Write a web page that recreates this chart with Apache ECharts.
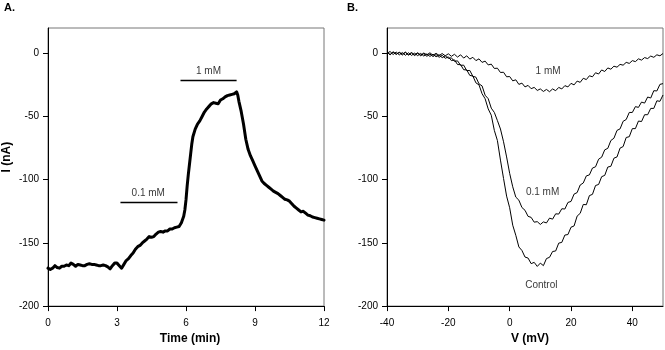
<!DOCTYPE html>
<html>
<head>
<meta charset="utf-8">
<script src="https://cdn.jsdelivr.net/npm/echarts@6/dist/echarts.min.js"></script>
<style>
  html, body { margin: 0; padding: 0; background: #fff; }
  #chart { width: 665px; height: 350px; }
</style>
</head>
<body>
<div id="chart"></div>
<script>
// Panel A: current over time (min, nA)
const timeMin = [0.00,0.10,0.20,0.30,0.40,0.50,0.60,0.70,0.80,0.90,1.00,1.10,1.20,1.30,1.40,1.50,1.60,1.70,1.80,1.90,
  2.00,2.10,2.20,2.30,2.40,2.50,2.60,2.70,2.80,2.90,3.00,3.10,3.20,3.30,3.40,3.50,3.60,3.70,3.80,3.90,
  4.00,4.10,4.20,4.30,4.40,4.50,4.60,4.70,4.80,4.90,5.00,5.10,5.20,5.30,5.40,5.50,5.60,5.70,5.80,5.90,
  5.95,6.00,6.05,6.10,6.15,6.20,6.25,6.30,6.40,6.50,6.60,6.70,6.80,6.90,7.00,7.10,7.20,7.30,7.40,7.50,
  7.60,7.70,7.80,7.90,8.00,8.10,8.15,8.20,8.25,8.30,8.40,8.50,8.60,8.70,8.80,8.90,9.00,9.10,9.20,9.30,
  9.40,9.50,9.60,9.70,9.80,9.90,10.00,10.10,10.20,10.30,10.40,10.50,10.60,10.70,10.80,10.90,11.00,11.10,11.20,11.30,
  11.40,11.50,11.60,11.70,11.80,11.90,12.00];
const currentA = [-170,-171,-170,-168,-169.5,-170,-168.5,-168.5,-167.5,-168,-166,-167,-168.5,-167,-167.5,-168,-168,-167,-166.5,-167,
  -167,-167.5,-168,-168,-167.5,-168,-169,-170.5,-168,-166,-166,-168,-170,-167,-164,-162.5,-160,-158,-155,-153,
  -152,-150,-148.5,-147,-145,-145.5,-145,-143,-141.5,-141,-141.5,-140.5,-140.5,-139,-139,-138,-137.5,-137,-134,-129,
  -124,-116,-105,-96,-88,-80,-72,-66,-60,-56,-53.5,-50,-46.5,-44,-42,-40,-39,-39.5,-40,-37,
  -36,-34.5,-33.5,-33,-32.5,-32,-31.5,-30.5,-33,-38,-46,-56,-68,-76,-81,-85,-89,-93,-97,-101,
  -103,-104.5,-106,-107.5,-109,-110,-111,-112.5,-114,-115.5,-116,-117,-119,-121,-122.5,-124,-125.5,-125,-126.5,-128,
  -128.5,-129.5,-130,-130.5,-131,-131.5,-132];

// Application bars in panel A: [start, end] in min, level in nA
const barLowConc = [3.15, 5.63];
const barLowLevel = -118;
const barHighConc = [5.76, 8.2];
const barHighLevel = -21.5;
const barLabels = ['0.1 mM', '1 mM'];
const barLabelPos = [[4.38, -111], [7.0, -15]];

// Panel B: current-voltage traces (mV, nA)
const voltage = [-40,-39,-38,-37,-36,-35,-34,-33,-32,-31,-30,-29,-28,-27,-26,-25,-24,-23,-22,-21,
  -20,-19,-18,-17,-16,-15,-14,-13,-12,-11,-10,-9,-8,-7,-6,-5,-4,-3,-2,-1,
  0,1,2,3,4,5,6,7,8,9,10,11,12,13,14,15,16,17,18,19,
  20,21,22,23,24,25,26,27,28,29,30,31,32,33,34,35,36,37,38,39,
  40,41,42,43,44,45,46,47,48,49,50];
const ivControl = [1.0,-1.2,0.9,-0.8,0.6,-1.4,0.8,-1.5,0.2,-1.8,0.0,-2.0,-0.3,-2.4,-0.6,-2.6,-1.0,-3.2,-1.6,-4.0,
  -2.8,-5.8,-5.2,-8.9,-9.0,-13.0,-13.2,-17.5,-18.0,-23.4,-25.0,-32.0,-36.0,-44.0,-49.0,-61.0,-69.0,-84.5,-99.0,-113.0,
  -122.2,-136.0,-144.0,-153.2,-156.0,-161.2,-162.0,-166.4,-165.4,-168.6,-166.0,-168.0,-162.4,-161.4,-156.8,-156.4,-150.2,-149.6,-143.8,-143.4,
  -137.6,-136.6,-128.8,-126.6,-119.6,-119.8,-112.6,-111.6,-104.6,-103.8,-97.6,-96.6,-90.0,-89.4,-83.0,-82.0,-75.0,-73.8,-66.6,-66.0,
  -59.6,-59.6,-53.6,-54.0,-48.6,-48.6,-43.6,-43.6,-37.6,-38.0,-33.0];
const ivLow = [0.0,1.4,-1.0,1.0,-1.3,0.6,-1.6,0.4,-1.7,0.1,-1.9,-0.1,-2.2,-0.5,-2.5,-0.7,-2.8,-1.2,-3.5,-2.0,
  -4.0,-3.6,-6.4,-6.0,-9.5,-9.4,-13.7,-13.6,-18.2,-18.9,-24.2,-25.8,-33.2,-35.9,-43.4,-46.8,-53.2,-59.9,-70.0,-82.0,
  -95.0,-105.6,-113.8,-116.2,-122.0,-124.2,-129.0,-129.8,-133.6,-133.2,-135.4,-133.4,-134.2,-130.4,-131.2,-127.0,-127.2,-123.0,-123.2,-118.0,
  -117.2,-111.4,-110.2,-104.2,-102.6,-97.0,-96.2,-90.8,-89.8,-83.8,-82.2,-76.4,-75.2,-69.0,-67.2,-61.0,-59.8,-53.8,-52.4,-46.8,
  -46.8,-42.2,-42.8,-38.6,-39.4,-34.6,-35.4,-29.6,-29.8,-24.6,-24.0];
const ivHigh = [1.0,-1.0,1.2,-0.8,0.8,-0.6,0.8,-1.0,0.6,-1.2,0.4,-1.4,0.2,-1.2,0.4,-1.6,0.0,-1.8,-0.2,-2.0,
  -0.4,-2.4,-0.8,-3.0,-1.2,-3.8,-2.0,-4.6,-3.2,-5.8,-4.4,-7.2,-6.2,-9.2,-8.6,-12.0,-11.8,-15.2,-15.0,-18.6,
  -18.4,-21.8,-21.0,-24.6,-23.6,-26.6,-25.4,-28.0,-27.0,-29.4,-28.2,-30.2,-28.6,-30.4,-28.2,-29.6,-27.0,-28.2,-25.6,-26.6,
  -23.8,-25.0,-22.0,-23.0,-19.8,-20.8,-17.8,-18.6,-15.4,-16.4,-13.2,-14.4,-11.6,-12.6,-10.2,-11.0,-8.8,-9.4,-7.2,-8.0,
  -5.8,-6.6,-4.4,-5.4,-3.4,-4.2,-2.2,-3.2,-1.2,-2.0,-0.2];
const traceLabels = ['1 mM', '0.1 mM', 'Control'];
const traceLabelPos = [[12.7, -15], [10.9, -110], [10.5, -184]];

// Tick values
const timeTicks = [0, 3, 6, 9, 12];
const voltageTicks = [-40, -20, 0, 20, 40];
const currentTicks = [0, -50, -100, -150, -200];

const sans = "'Liberation Sans', Arial, sans-serif";

const zip = (xs, ys) => xs.map((x, i) => [x, ys[i]]);

function xAxisCfg(gridIndex, min, max, ticks, name, shift) {
  return {
    type: 'value', gridIndex, min, max,
    axisLine: { show: true, onZero: false, lineStyle: { color: '#000', width: 1 } },
    axisTick: { show: true, length: 5, inside: false, customValues: ticks, lineStyle: { color: '#000' } },
    axisLabel: { show: true, customValues: ticks, color: '#000', fontSize: 10, fontFamily: sans, margin: 12 },
    splitLine: { show: false },
    name, nameLocation: 'middle', nameGap: 26,
    nameTextStyle: { color: '#000', fontSize: 12, fontWeight: 'bold', fontFamily: sans, padding: [0, 0, 0, shift] }
  };
}
function yAxisCfg(gridIndex, name) {
  return {
    type: 'value', gridIndex, min: -200, max: 20,
    axisLine: { show: true, onZero: false, lineStyle: { color: '#000', width: 1 } },
    axisTick: { show: true, length: 5, inside: false, customValues: currentTicks, lineStyle: { color: '#000' } },
    axisLabel: { show: true, customValues: currentTicks, color: '#000', fontSize: 10, fontFamily: sans, margin: 9 },
    splitLine: { show: false },
    name, nameLocation: 'middle', nameGap: 35,
    nameTextStyle: { color: '#000', fontSize: 12, fontWeight: 'bold', fontFamily: sans, padding: [0, 0, 0, 20] }
  };
}

function textMarks(xi, yi, pos, names) {
  return {
    type: 'scatter', xAxisIndex: xi, yAxisIndex: yi, symbolSize: 1, silent: true,
    itemStyle: { color: 'transparent' },
    data: pos.map((p, i) => ({ value: p, name: names[i] })),
    label: {
      show: true, position: [0, 0], align: 'center', verticalAlign: 'middle',
      formatter: '{b}', color: '#000', fontSize: 10, fontFamily: sans
    }
  };
}

const chart = echarts.init(document.getElementById('chart'), null, { renderer: 'canvas' });
chart.setOption({
  animation: false,
  backgroundColor: '#fff',
  title: [
    { text: 'A.', left: 4, top: 2, padding: 0, textStyle: { fontSize: 11, fontWeight: 'bold', fontFamily: sans, color: '#000' } },
    { text: 'B.', left: 347, top: 2, padding: 0, textStyle: { fontSize: 11, fontWeight: 'bold', fontFamily: sans, color: '#000' } }
  ],
  grid: [
    { left: 48, top: 28, width: 276, height: 279, show: true, borderColor: '#777', borderWidth: 1, backgroundColor: 'transparent' },
    { left: 387, top: 28, width: 276, height: 279, show: true, borderColor: '#777', borderWidth: 1, backgroundColor: 'transparent' }
  ],
  xAxis: [
    xAxisCfg(0, 0, 12, timeTicks, 'Time (min)', 8),
    xAxisCfg(1, -40, 50, voltageTicks, 'V (mV)', 10)
  ],
  yAxis: [
    yAxisCfg(0, 'I (nA)'),
    yAxisCfg(1, '')
  ],
  series: [
    {
      type: 'line', xAxisIndex: 0, yAxisIndex: 0, data: zip(timeMin, currentA),
      showSymbol: false, smooth: false, lineStyle: { color: '#000', width: 3, join: 'round', cap: 'round' }
    },
    {
      type: 'line', xAxisIndex: 0, yAxisIndex: 0, showSymbol: false,
      data: barLowConc.map(t => [t, barLowLevel]), lineStyle: { color: '#000', width: 1.5 }
    },
    {
      type: 'line', xAxisIndex: 0, yAxisIndex: 0, showSymbol: false,
      data: barHighConc.map(t => [t, barHighLevel]), lineStyle: { color: '#000', width: 1.5 }
    },
    textMarks(0, 0, barLabelPos, barLabels),
    {
      type: 'line', xAxisIndex: 1, yAxisIndex: 1, data: zip(voltage, ivControl),
      showSymbol: false, lineStyle: { color: '#000', width: 1 }
    },
    {
      type: 'line', xAxisIndex: 1, yAxisIndex: 1, data: zip(voltage, ivLow),
      showSymbol: false, lineStyle: { color: '#000', width: 1 }
    },
    {
      type: 'line', xAxisIndex: 1, yAxisIndex: 1, data: zip(voltage, ivHigh),
      showSymbol: false, lineStyle: { color: '#000', width: 1 }
    },
    textMarks(1, 1, traceLabelPos, traceLabels)
  ]
});
</script>
</body>
</html>
